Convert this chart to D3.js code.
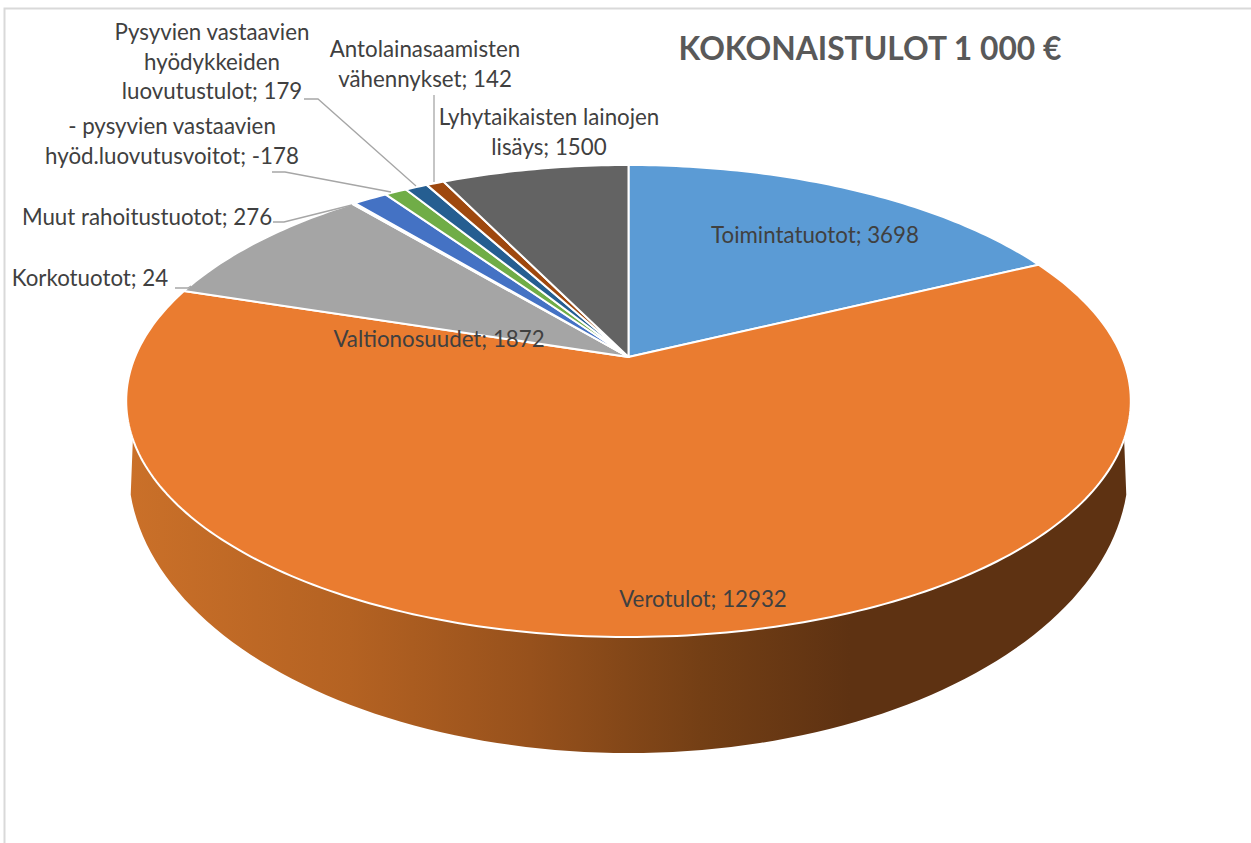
<!DOCTYPE html>
<html>
<head>
<meta charset="utf-8">
<script src="https://cdn.jsdelivr.net/npm/d3@7/dist/d3.min.js"></script>
<style>
	html, body { margin: 0; padding: 0; background: #fff; }
	svg { display: block; }
	text { font-family: Lato, "Open Sans", sans-serif; }
</style>
</head>
<body>
<div id="chart"></div>
<script>
var categories = ["Toimintatuotot", "Verotulot", "Valtionosuudet", "Korkotuotot", "Muut rahoitustuotot",
	"- pysyvien vastaavien hyöd.luovutusvoitot", "Pysyvien vastaavien hyödykkeiden luovutustulot",
	"Antolainasaamisten vähennykset", "Lyhytaikaisten lainojen lisäys"];
var values = [3698, 12932, 1872, 24, 276, -178, 179, 142, 1500];
var colors = ["#5b9bd5", "#ea7c30", "#a5a5a5", "#ffc000", "#4472c4", "#70ad47", "#255e91", "#9e480e", "#636363"];
var labelLines = [
	["Toimintatuotot; 3698"],
	["Verotulot; 12932"],
	["Valtionosuudet; 1872"],
	["Korkotuotot; 24"],
	["Muut rahoitustuotot; 276"],
	["- pysyvien vastaavien", "hyöd.luovutusvoitot; -178"],
	["Pysyvien vastaavien", "hyödykkeiden", "luovutustulot; 179"],
	["Antolainasaamisten", "vähennykset; 142"],
	["Lyhytaikaisten lainojen", "lisäys; 1500"]
];
var title = "KOKONAISTULOT 1 000 €";

// label centres and leader lines, placed by hand like the original
var labelPos = [[815, 236], [703, 600], [439, 340], [90, 279], [147, 218], [172, 127], [212, 33], [425, 50], [549, 118]];
var leaders = [
	[[175, 288], [188, 288], [191, 286]],
	[[273, 222], [284, 222], [352, 205]],
	[[272, 172], [285, 172], [391, 192]],
	[[304, 99], [318, 99], [416, 186]],
	[[434, 95], [434, 182]]
];

function init(){
	var w = 1251;
	var h = 843;

	//perspective of the top face: apex is not the middle of the ellipse
	var apexX = 628.5, apexY = 357;
	var k = 0.1864, a = 227.8, b = 493.5;

	function rim(angle){
		var X = Math.sin(angle);
		var Y = -Math.cos(angle);
		var d = 1 - k * Y;
		return [apexX + b * X / d, apexY + a * Y / d];
	}

	//lower edge of the wall
	function lower(t){
		return [628.5 - 500 * Math.cos(t), 468 + 285 * Math.sin(t)];
	}

	var svg = d3.select("#chart")
				.append("svg")
				.attr("width", w)
				.attr("height", h);

	svg.append("path")
		.attr("d", "M4.5," + h + "V8.5H" + w)
		.attr("fill", "none")
		.attr("stroke", "#d9d9d9")
		.attr("stroke-width", 2);

	//wall gradient
	var grad = svg.append("defs").append("linearGradient")
		.attr("id", "wall")
		.attr("gradientUnits", "userSpaceOnUse")
		.attr("x1", 130).attr("x2", 1130)
		.attr("y1", 0).attr("y2", 0);
	[[0, "#ca7029"], [0.22, "#b46222"], [0.4, "#97511c"], [0.57, "#743f15"], [0.72, "#5e3212"], [1, "#5e3212"]]
		.forEach(function(s){
			grad.append("stop").attr("offset", s[0]).attr("stop-color", s[1]);
		});

	var pie = d3.pie()
		.sort(null)
		.value(function(d){ return Math.abs(d); });
	var arcs = pie(values);

	var line = d3.line();

	//wall under the front part of the rim
	var wallTop = d3.range(0, 1.0001, 0.01).map(function(t){
		return rim(Math.PI * (0.61 + 0.78 * t));
	});
	var wallBottom = d3.range(0, 1.0001, 0.01).map(function(t){
		return lower(Math.PI * (0.03 + 0.94 * t));
	});
	svg.append("path")
		.attr("d", line(wallBottom.concat(wallTop)) + "Z")
		.attr("fill", "url(#wall)");

	//slices of the top face
	function slicePath(d){
		var n = Math.max(2, Math.ceil((d.endAngle - d.startAngle) * 60));
		var pts = [[apexX, apexY]];
		for (var i = 0; i <= n; i++) {
			pts.push(rim(d.startAngle + (d.endAngle - d.startAngle) * i / n));
		}
		return line(pts) + "Z";
	}

	svg.selectAll("path.slice")
		.data(arcs)
		.enter()
		.append("path")
		.attr("class", "slice")
		.attr("d", slicePath)
		.attr("fill", function(d, i){ return colors[i]; })
		.attr("stroke", "#fff")
		.attr("stroke-width", 2)
		.attr("stroke-linejoin", "round");

	//leader lines
	svg.selectAll("path.leader")
		.data(leaders)
		.enter()
		.append("path")
		.attr("class", "leader")
		.attr("d", function(d){ return line(d); })
		.attr("fill", "none")
		.attr("stroke", "#a6a6a6")
		.attr("stroke-width", 1.3);

	//labels
	var labels = svg.selectAll("text.label")
		.data(labelLines)
		.enter()
		.append("text")
		.attr("class", "label")
		.attr("text-anchor", "middle")
		.attr("font-size", 22.3)
		.attr("fill", "#404040");

	labels.each(function(d, i){
		var el = d3.select(this);
		d.forEach(function(s, j){
			el.append("tspan")
				.attr("x", labelPos[i][0])
				.attr("y", labelPos[i][1] + 7 + j * 29.5)
				.text(s);
		});
	});

	svg.append("text")
		.attr("x", 870)
		.attr("y", 60)
		.attr("text-anchor", "middle")
		.attr("font-size", 31.8)
		.attr("font-weight", "bold")
		.attr("fill", "#595959")
		.text(title);
}

window.onload = init;
</script>
</body>
</html>
